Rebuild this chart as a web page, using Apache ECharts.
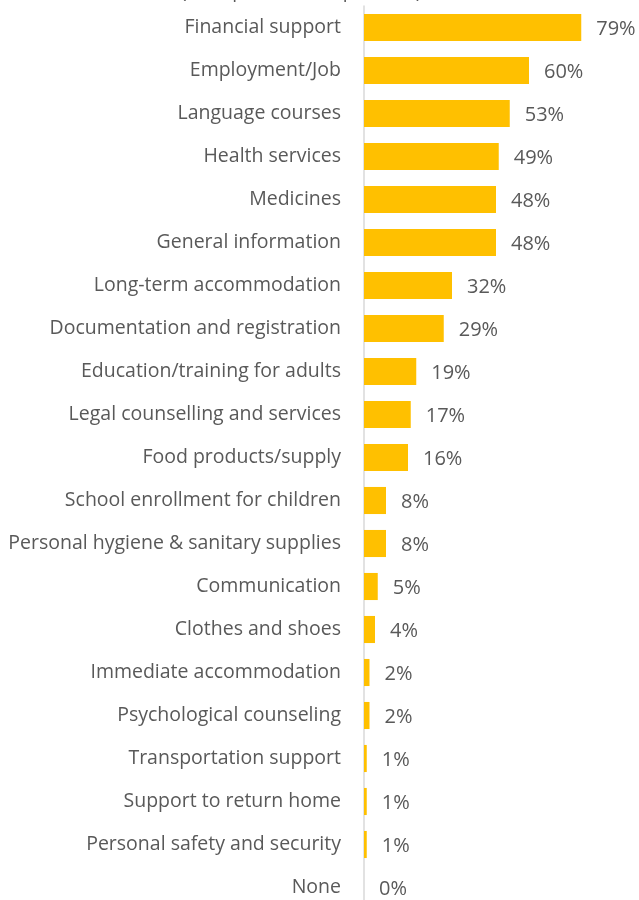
<!DOCTYPE html>
<html>
<head>
<meta charset="utf-8">
<script src="https://cdn.jsdelivr.net/npm/echarts@6/dist/echarts.min.js"></script>
<style>
  html, body { margin: 0; padding: 0; background: #fff; overflow: hidden; }
  #chart { width: 639px; height: 920px; }
</style>
</head>
<body>
<div id="chart"></div>
<script>
// Needs reported, top to bottom
const categories = [
  'Financial support', 'Employment/Job', 'Language courses', 'Health services',
  'Medicines', 'General information', 'Long-term accommodation',
  'Documentation and registration', 'Education/training for adults',
  'Legal counselling and services', 'Food products/supply',
  'School enrollment for children', 'Personal hygiene & sanitary supplies',
  'Communication', 'Clothes and shoes', 'Immediate accommodation',
  'Psychological counseling', 'Transportation support', 'Support to return home',
  'Personal safety and security', 'None'
];
// Share of respondents (%)
const shares = [79, 60, 53, 49, 48, 48, 32, 29, 19, 17, 16, 8, 8, 5, 4, 2, 2, 1, 1, 1, 0];

const FONT = '"Open Sans", Lato, sans-serif';
const chart = echarts.init(document.getElementById('chart'), null, { renderer: 'canvas' });

chart.setOption({
  animation: false,
  backgroundColor: '#ffffff',
  title: {
    text: '(multiple answers possible)',
    left: 176,
    top: -22,
    textStyle: { fontFamily: FONT, fontSize: 19, fontWeight: 'normal', color: '#595959' }
  },
  grid: { left: 364, width: 275, top: 6, height: 903, containLabel: false },
  xAxis: {
    type: 'value',
    min: 0,
    max: 100,
    show: false
  },
  yAxis: {
    type: 'category',
    inverse: true,
    data: categories,
    axisLine: { show: true, lineStyle: { color: '#d9d9d9', width: 1.5 } },
    axisTick: { show: false },
    axisLabel: {
      margin: 23,
      fontFamily: FONT,
      fontSize: 19.5,
      color: '#595959'
    }
  },
  series: [{
    type: 'bar',
    data: shares,
    barCategoryGap: '37%',
    itemStyle: { color: '#FFC000' },
    label: {
      show: true,
      position: 'right',
      distance: 15,
      offset: [0, 2],
      formatter: '{c}%',
      fontFamily: FONT,
      fontSize: 20,
      color: '#595959'
    }
  }]
});
</script>
</body>
</html>
